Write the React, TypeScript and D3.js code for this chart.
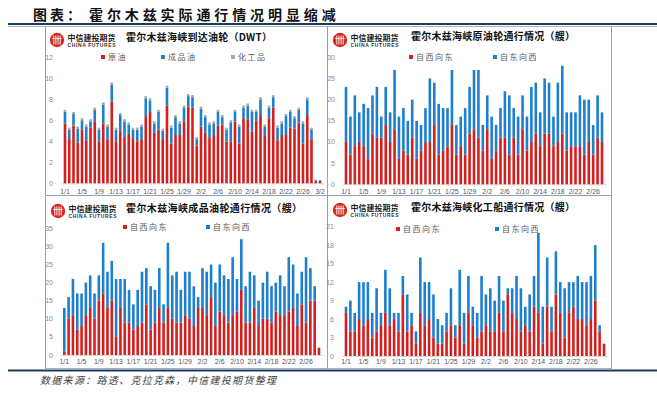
import * as d3 from "d3";

// categories: daily dates starting 1/1
const allDays = d3.timeDays(new Date(2025, 0, 1), new Date(2025, 2, 3)).map(d3.timeFormat("%-m/%-d"));

// Panel 1: arrivals by DWT (原油 / 成品油 / 化工品)
const crudeDwt = [5.7,4.2,5.5,3.9,5.1,4.1,5.3,5.9,4.0,5.7,4.2,7.8,4.0,5.0,4.4,4.7,4.3,4.0,4.2,6.4,6.8,4.8,5.1,4.2,7.4,3.8,4.6,4.6,5.9,7.3,7.2,3.6,5.4,4.8,4.3,4.6,5.5,5.6,4.0,4.0,5.9,3.8,6.2,6.1,4.9,6.0,6.5,4.5,6.2,7.2,4.1,4.6,4.6,5.3,5.2,5.8,3.8,6.5,4.2,0.2,0.25];
const productDwt = [1.1,0.9,1.1,1.3,0.9,1.3,0.6,1.1,1.1,1.8,1.2,1.6,1.1,1.5,1.5,0.9,0.8,1.1,1.2,1.7,1.1,0.9,1.7,0.8,1.7,1.5,1.7,1.1,1.3,1.0,1.0,0.6,1.7,1.5,1.3,1.1,1.3,0.7,1.1,1.8,0.9,1.6,1.0,1.3,1.9,0.8,1.5,0.9,1.0,1.0,1.2,1.1,1.8,1.5,1.0,1.2,1.9,1.5,0.9,0.1,0.05];
const chemDwt = [0.2,0.2,0.2,0.2,0.2,0.2,0.2,0.2,0.2,0.2,0.2,0.2,0.2,0.2,0.2,0.2,0.2,0.2,0.2,0.2,0.2,0.2,0.2,0.2,0.2,0.2,0.2,0.2,0.2,0.2,0.2,0.2,0.2,0.2,0.2,0.2,0.2,0.2,0.2,0.2,0.2,0.2,0.2,0.2,0.2,0.2,0.2,0.2,0.2,0.2,0.2,0.2,0.2,0.2,0.2,0.2,0.2,0.2,0.2,0.05,0];

// Panel 2: crude tankers (艘)
const crudeWE = [10,7,9,10,9,6,12,11,11,14,10,13,6,8,7,11,6,8,10,10,14,7,8,9,14,7,9,7,12,13,11,8,13,6,8,11,11,7,11,7,13,8,10,12,9,12,12,9,10,12,8,9,9,9,7,10,7,11,10];
const crudeEW = [13,9,12,7,10,12,9,12,5,9,7,14,10,10,8,9,9,6,8,15,10,12,10,9,13,7,7,11,11,14,16,6,8,10,6,7,11,14,7,9,8,8,13,12,8,13,12,7,14,16,9,8,8,12,13,10,7,10,7];

// Panel 3: product tankers (艘)
const productWE = [1,10,11,7,8,11,13,10,15,17,13,15,5,13,9,9,7,8,9,14,7,9,13,9,13,10,9,9,11,10,8,13,13,11,16,8,12,11,9,11,12,18,9,9,13,8,10,10,9,12,11,11,12,13,8,14,9,15,15,2];
const productEW = [12,6,10,10,9,9,9,7,7,14,10,11,16,8,12,9,7,10,14,10,12,9,11,5,18,12,14,9,12,13,11,3,11,12,9,12,13,11,12,16,9,14,10,14,9,7,10,13,10,8,11,8,15,12,9,9,18,9,4,0];

// Panel 4: chemical tankers (艘)
const chemWE = [7,4,4,6,5,6,3,4,5,7,5,6,4,10,4,5,2,7,5,6,3,2,2,4,5,3,5,2,7,5,3,4,5,4,4,7,4,10,7,6,4,5,4,8,7,2,8,4,10,7,3,7,8,6,6,5,6,9,4,2];
const chemEW = [1,5,3,6,7,6,4,7,2,7,6,1,3,3,6,2,2,9,7,6,7,4,3,3,6,2,9,5,6,3,4,9,5,7,5,6,5,1,4,7,7,3,6,5,13,6,8,4,7,5,8,5,4,7,6,7,7,9,1,0];

const RED = "#d2201f";
const BLUE = "#1f7fcf";
const GRAY = "#a6a6a6";
const CJK = "'Noto Sans CJK SC', 'Noto Sans', sans-serif";
const LATIN = "'Liberation Sans', Arial, sans-serif";

type Series = { name: string; color: string; values: number[]; lx: number };

type PanelProps = {
  title: string;
  titleX: number;
  titleY: number;
  titleW: number;
  logo: [number, number];
  legendY: number;
  series: Series[];
  yMax: number;
  yStep: number;
  yZero: number;
  yTop: number;
  xFirst: number;
  xLast: number;
  axisEnd: number;
  tickX: number;
  labelY: number;
};

function Logo({ x, y }: { x: number; y: number }) {
  return (
    <g>
      <circle cx={x} cy={y} r={7.2} fill="#d42a22" />
      {[-3.2, -1.1, 1.1, 3.2].map((d) => (
        <line key={d} x1={x + d} x2={x + d} y1={y - 4.5} y2={y + 4.5} stroke="#fff" strokeWidth={0.9} />
      ))}
      <line x1={x - 4.8} x2={x + 4.8} y1={y - 1.5} y2={y - 1.5} stroke="#fff" strokeWidth={0.8} />
      <text x={x + 10.5} y={y + 0.8} fontFamily={CJK} fontSize={8} fontWeight={700} fill="#222" textLength={48} lengthAdjust="spacingAndGlyphs">
        中信建投期货
      </text>
      <text x={x + 10.5} y={y + 7} fontFamily={LATIN} fontSize={5} fontWeight={700} fill="#333" textLength={48}>
        CHINA FUTURES
      </text>
    </g>
  );
}

function Panel(p: PanelProps) {
  const n = p.series[0].values.length;
  const days = allDays.slice(0, n);
  const x = d3.scalePoint<string>().domain(days).range([p.xFirst, p.xLast]);
  const y = d3.scaleLinear().domain([0, p.yMax]).range([p.yZero, p.yTop]);
  const rows = days.map((d, i) => {
    const r: Record<string, number | string> = { day: d };
    p.series.forEach((s) => (r[s.name] = s.values[i]));
    return r;
  });
  const stacked = d3.stack<any>().keys(p.series.map((s) => s.name))(rows as any);
  const bw = 2.6;
  const yTicks = d3.range(0, p.yMax + 0.001, p.yStep);
  const xTicks = days.filter((_, i) => i % 4 === 0);

  return (
    <g>
      <Logo x={p.logo[0]} y={p.logo[1]} />
      <text
        x={p.titleX - p.titleW / 2}
        y={p.titleY}
        fontFamily={CJK}
        fontSize={10}
        fontWeight={700}
        fill="#111"
        textLength={p.titleW}
        lengthAdjust="spacing"
      >
        {p.title}
      </text>
      {p.series.map((s) => (
        <g key={s.name}>
          <rect x={s.lx - 2} y={p.legendY - 2} width={4} height={4} fill={s.color} />
          <text x={s.lx + 5} y={p.legendY + 3} fontFamily={CJK} fontSize={8} fill="#595959" letterSpacing={1.5}>
            {s.name}
          </text>
        </g>
      ))}
      {yTicks.map((t) => (
        <text key={t} x={p.tickX} y={y(t) + 2.5} textAnchor="end" fontFamily={LATIN} fontSize={7} fill="#8c8c8c">
          {t}
        </text>
      ))}
      <line x1={p.xFirst - 4} x2={p.axisEnd} y1={p.yZero + 0.5} y2={p.yZero + 0.5} stroke="#d9d9d9" strokeWidth={1} />
      {stacked.map((layer, li) => (
        <g key={li} fill={p.series[li].color}>
          {layer.map((seg, i) =>
            seg[1] - seg[0] > 0 ? (
              <rect
                key={i}
                x={(x(days[i]) as number) - bw / 2}
                y={y(seg[1])}
                width={bw}
                height={y(seg[0]) - y(seg[1])}
              />
            ) : null
          )}
        </g>
      ))}
      {xTicks.map((d) => (
        <text key={d} x={x(d)} y={p.labelY} textAnchor="middle" fontFamily={LATIN} fontSize={7} fill="#595959">
          {d}
        </text>
      ))}
    </g>
  );
}

export default function App() {
  return (
    <svg width={657} height={397} style={{ position: "absolute", left: 0, top: 0, background: "#fff" }}>
      <rect width={657} height={397} fill="#fff" />
      <text x={33} y={20} fontFamily={CJK} fontSize={14} fontWeight={700} fill="#111" letterSpacing={3}>
        图表：
      </text>
      <text x={89} y={20} fontFamily={CJK} fontSize={14} fontWeight={700} fill="#111" letterSpacing={3.9}>
        霍尔木兹实际通行情况明显缩减
      </text>
      <line x1={8} x2={657} y1={24} y2={24} stroke="#1f3a5f" strokeWidth={2} />
      <line x1={8} x2={657} y1={26.5} y2={26.5} stroke="#8aa2bc" strokeWidth={0.8} />
      <line x1={45.5} x2={45.5} y1={26} y2={369} stroke="#8aa2bc" strokeWidth={1} />
      <line x1={327.5} x2={327.5} y1={26} y2={369} stroke="#8aa2bc" strokeWidth={1} />
      <line x1={611.5} x2={611.5} y1={26} y2={369} stroke="#8aa2bc" strokeWidth={1} />
      <line x1={45} x2={612} y1={195.5} y2={195.5} stroke="#8aa2bc" strokeWidth={1} />

      <Panel
        title="霍尔木兹海峡到达油轮（DWT）"
        titleX={199}
        titleY={41}
        titleW={146}
        logo={[57, 40]}
        legendY={57}
        series={[
          { name: "原油", color: RED, values: crudeDwt, lx: 103 },
          { name: "成品油", color: BLUE, values: productDwt, lx: 163 },
          { name: "化工品", color: GRAY, values: chemDwt, lx: 233 },
        ]}
        yMax={12}
        yStep={2}
        yZero={183.3}
        yTop={57.3}
        xFirst={65}
        xLast={320}
        axisEnd={324}
        tickX={53}
        labelY={193.5}
      />
      <Panel
        title="霍尔木兹海峡原油轮通行情况（艘）"
        titleX={493}
        titleY={40}
        titleW={164}
        logo={[340, 40]}
        legendY={57}
        series={[
          { name: "自西向东", color: RED, values: crudeWE, lx: 411 },
          { name: "自东向西", color: BLUE, values: crudeEW, lx: 495 },
        ]}
        yMax={30}
        yStep={5}
        yZero={184.3}
        yTop={57.3}
        xFirst={346}
        xLast={602}
        axisEnd={607}
        tickX={335}
        labelY={193.5}
      />
      <Panel
        title="霍尔木兹海峡成品油轮通行情况（艘）"
        titleX={214}
        titleY={211.5}
        titleW={176}
        logo={[58, 211]}
        legendY={227}
        series={[
          { name: "自西向东", color: RED, values: productWE, lx: 125 },
          { name: "自东向西", color: BLUE, values: productEW, lx: 208 },
        ]}
        yMax={35}
        yStep={5}
        yZero={355}
        yTop={228.3}
        xFirst={64.3}
        xLast={319}
        axisEnd={324}
        tickX={53}
        labelY={363.5}
      />
      <Panel
        title="霍尔木兹海峡化工船通行情况（艘）"
        titleX={493}
        titleY={211}
        titleW={164}
        logo={[340, 210]}
        legendY={229}
        series={[
          { name: "自西向东", color: RED, values: chemWE, lx: 398 },
          { name: "自东向西", color: BLUE, values: chemEW, lx: 497 },
        ]}
        yMax={21}
        yStep={3}
        yZero={356}
        yTop={226.7}
        xFirst={346}
        xLast={604}
        axisEnd={608}
        tickX={334}
        labelY={364}
      />

      <line x1={45} x2={612} y1={368.5} y2={368.5} stroke="#8aa2bc" strokeWidth={0.8} />
      <line x1={8} x2={657} y1={370.5} y2={370.5} stroke="#1f3a5f" strokeWidth={2} />
      <text x={40} y={384} fontFamily={CJK} fontSize={10} fontStyle="italic" fill="#404040" letterSpacing={1.3}>
        数据来源：路透、克拉克森，中信建投期货整理
      </text>
    </svg>
  );
}
